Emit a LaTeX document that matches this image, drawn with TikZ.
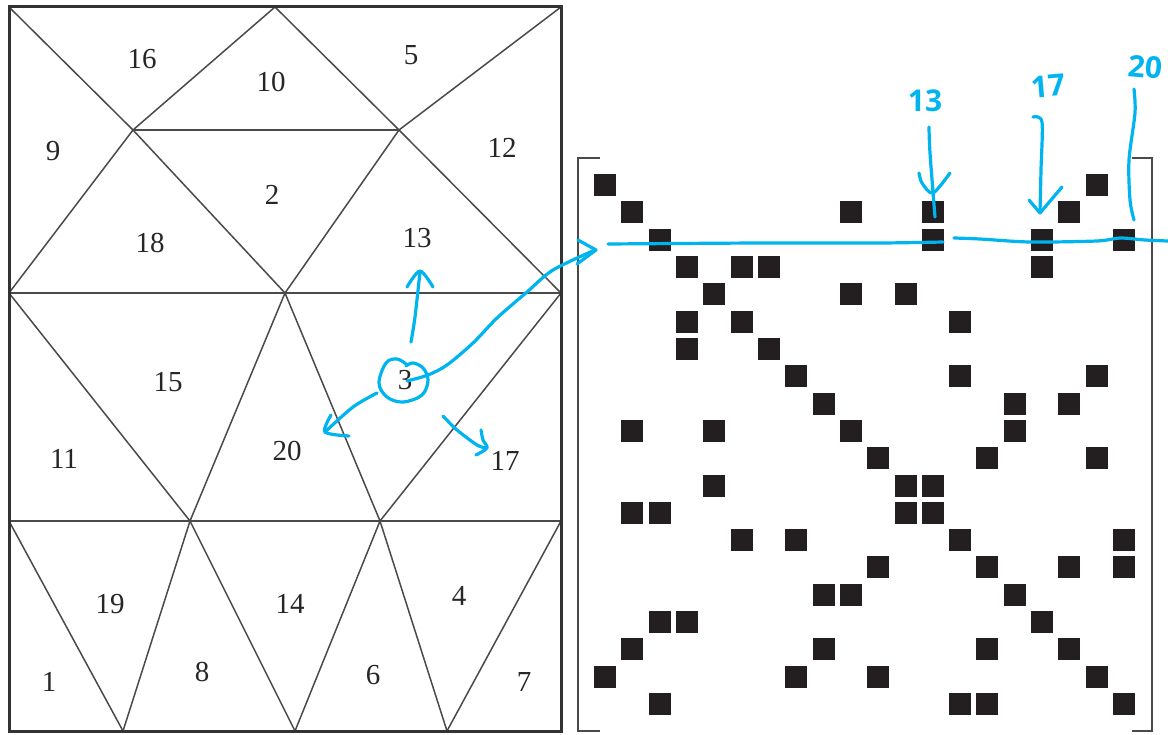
\documentclass[tikz,border=0pt]{standalone}
\usepackage{fontspec}
\setmainfont{Liberation Serif}
\newfontfamily\handfont{Open Sans}
\definecolor{inkc}{HTML}{00B4F0}
\definecolor{meshc}{HTML}{4A4A4A}
\definecolor{framec}{HTML}{333333}
\definecolor{cellc}{HTML}{231F20}
\tikzset{
  meshline/.style={draw=meshc,line width=1.5pt},
  frameline/.style={draw=framec,line width=3pt,line join=miter},
  bracketline/.style={draw=meshc,line width=1.8pt,line join=miter},
  cell/.style={fill=cellc,draw=none,minimum size=22pt,inner sep=0pt,outer sep=0pt},
  elem/.style={inner sep=0pt,outer sep=0pt,text=black!85,font=\fontsize{29}{30}\selectfont},
  ink/.style={draw=inkc,line width=3.2pt,line cap=round,line join=round},
  inktext/.style={inner sep=0pt,outer sep=0pt,text=inkc,font=\handfont\bfseries\fontsize{30}{31}\selectfont}
}
\begin{document}
\begin{tikzpicture}[x=1pt,y=-1pt]
\useasboundingbox[fill=white] (0,0) rectangle (1168,735);
% mesh vertices
\coordinate (TL) at (9,7);
\coordinate (TM) at (275,7);
\coordinate (TR) at (561,7);
\coordinate (B) at (133,130);
\coordinate (C) at (399,130);
\coordinate (L1) at (9,293);
\coordinate (M1) at (285,293);
\coordinate (R1) at (561,293);
\coordinate (L2) at (9,521);
\coordinate (M2) at (190,521);
\coordinate (N2) at (380,521);
\coordinate (R2) at (561,521);
\coordinate (BL) at (9,731);
\coordinate (B1) at (123,731);
\coordinate (B2) at (295,731);
\coordinate (B3) at (447,731);
\coordinate (BR) at (561,731);
\foreach \p/\q in {TL/B,B/TM,TM/C,C/TR,B/C,B/L1,B/M1,C/M1,C/R1,L1/R1,L1/M2,M1/M2,M1/N2,R1/N2,L2/R2,L2/B1,M2/B1,M2/B2,N2/B2,N2/B3,R2/B3}
  \draw[meshline] (\p) -- (\q);
\draw[frameline] (TL) rectangle (BR);
% element numbers
\foreach \n/\x/\y in {16/142/59,10/271/82,5/411/55,9/53/151,2/272/195,12/502/148,18/150/243,13/417/238,15/168/382,3/405/380,11/64/459,20/287/451,17/505/461,19/110/604,14/290/604,4/459/596,1/49/682,8/202/672,6/373/675,7/524/682}
  \node[elem] (e\n) at (\x,\y) {\n};
% matrix brackets
\draw[bracketline] (600,158) -- (578,158) -- (578,731) -- (600,731);
\draw[bracketline] (1132,158) -- (1152,158) -- (1152,731) -- (1132,731);
% matrix cells
\foreach \r/\c in {1/1,1/19,
 2/2,2/10,2/13,2/18,
 3/3,3/13,3/17,3/20,
 4/4,4/6,4/7,4/17,
 5/5,5/10,5/12,
 6/4,6/6,6/14,
 7/4,7/7,
 8/8,8/14,8/19,
 9/9,9/16,9/18,
 10/2,10/5,10/10,10/16,
 11/11,11/15,11/19,
 12/5,12/12,12/13,
 13/2,13/3,13/12,13/13,
 14/6,14/8,14/14,14/20,
 15/11,15/15,15/18,15/20,
 16/9,16/10,16/16,
 17/3,17/4,17/17,
 18/2,18/9,18/15,18/18,
 19/1,19/8,19/11,19/19,
 20/3,20/14,20/15,20/20}
  \node[cell] (m\r-\c) at ({605+27.32*(\c-1)},{185+27.32*(\r-1)}) {};
% annotations: circle round element 3
\draw[ink] plot[smooth,tension=0.6] coordinates {(406,364) (397,359) (386,363) (379,383) (387,397) (403,402) (422,395) (428,380) (423,368) (413,363) (406,366)};
% to 13
\draw[ink] plot[smooth] coordinates {(411,342) (415,317) (420,272)};
\draw[ink] plot[smooth] coordinates {(407,287) (420,271) (433,287)};
% long stroke from 3 to the matrix row
\draw[ink] plot[smooth] coordinates {(407,381) (428,375) (447,365) (473,343) (497,318) (527,292) (553,270) (595,250)};
\draw[ink] plot coordinates {(578,240) (596,250) (577,264)};
% to 20
\draw[ink] plot[smooth] coordinates {(377,393) (353,407) (325,432)};
\draw[ink] plot[smooth] coordinates {(331,415) (325,432) (349,436)};
% to 17
\draw[ink] plot[smooth] coordinates {(443,416) (457,430) (477,445) (486,448)};
\draw[ink] plot[smooth] coordinates {(481,430) (483,440) (487,448) (476,455)};
% row line
\draw[ink] plot[smooth] coordinates {(608,244) (760,243) (880,243) (943,242)};
\draw[ink] plot[smooth] coordinates {(954,238) (980,239) (1030,242) (1097,241) (1120,238) (1145,240) (1168,241)};
% column arrows
\draw[ink] plot[smooth] coordinates {(929,127) (930,153) (935,217)};
\draw[ink] plot[smooth] coordinates {(919,173) (922,183) (933,193) (950,173)};
\draw[ink] plot[smooth] coordinates {(1033,117) (1042,122) (1041,170) (1040,212)};
\draw[ink] plot coordinates {(1029,200) (1040,213) (1062,187)};
\draw[ink] plot[smooth] coordinates {(1134,89) (1135,113) (1129,160) (1130,200) (1134,220)};
% handwritten labels
\node[inktext] (h13) at (925,101) {13};
\node[inktext,rotate=5] (h17) at (1048,86) {17};
\node[inktext,rotate=-5] (h20) at (1145,67) {20};
\end{tikzpicture}
\end{document}
